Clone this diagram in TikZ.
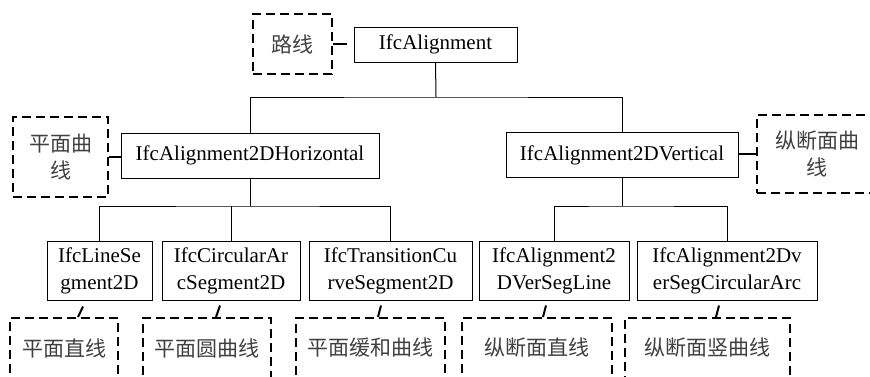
\documentclass[tikz,border=0pt]{standalone}
\usepackage{fontspec}
\setmainfont{Liberation Serif}
\newfontfamily\cjk{Noto Sans CJK SC}
\usepackage{tikz}
\usetikzlibrary{positioning}
\tikzset{>=stealth}

\begin{document}
\begin{tikzpicture}[x=0.5pt, y=-0.5pt,
    every node/.style={font=\fontsize{10.5pt}{13.5pt}\selectfont, inner sep=0pt, align=center},
    cls/.style={draw, line width=0.5pt},
    note/.style={draw, line width=1pt, dash pattern=on 4.5pt off 2.5pt, text=black!75, font=\cjk\fontsize{10.5pt}{13.5pt}\selectfont},
    link/.style={line width=0.5pt},
    callout/.style={line width=1pt}]

    \useasboundingbox (0,0) rectangle (870,376);

    % classes
    \node[cls, minimum width=81.5pt, minimum height=17.5pt]	(root)	at	(435.5,44.5)	{IfcAlignment};
    \node[cls, minimum width=129pt, minimum height=22.5pt]	(hor)	at	(250,155.5)	{IfcAlignment2DHorizontal};
    \node[cls, minimum width=116pt, minimum height=22.5pt]	(ver)	at	(622,155)	{IfcAlignment2DVertical};
    \node[cls, minimum width=52.5pt, minimum height=29.5pt]	(ls)	at	(99.5,270.5)	{IfcLineSe\\gment2D};
    \node[cls, minimum width=69pt, minimum height=29.5pt]	(ca)	at	(231,270.5)	{IfcCircularAr\\cSegment2D};
    \node[cls, minimum width=81.5pt, minimum height=29.5pt]	(tr)	at	(390.5,270.5)	{IfcTransitionCu\\rveSegment2D};
    \node[cls, minimum width=75pt, minimum height=29.5pt]	(vl)	at	(554,270.5)	{IfcAlignment2\\DVerSegLine};
    \node[cls, minimum width=90pt, minimum height=29.5pt]	(va)	at	(727,270.5)	{IfcAlignment2Dv\\erSegCircularArc};

    % notes
    \node[note, minimum width=39.5pt, minimum height=30pt]	(rnote)	at	(292.5,44)	{路线};
    \node[note, minimum width=47.5pt, minimum height=40pt]	(hnote)	at	(60.5,157)	{平面曲\\线};
    \node[note, minimum width=60pt, minimum height=39pt]	(vnote)	at	(817,154)	{纵断面曲\\线};
    \node[note, minimum width=54pt, minimum height=30pt]	(lsn)	at	(64,348)	{平面直线};
    \node[note, minimum width=64pt, minimum height=30pt]	(can)	at	(207,348)	{平面圆曲线};
    \node[note, minimum width=74.5pt, minimum height=30pt]	(trn)	at	(370.5,348)	{平面缓和曲线};
    \node[note, minimum width=75pt, minimum height=30pt]	(vln)	at	(537,348)	{纵断面直线};
    \node[note, minimum width=82.5pt, minimum height=30pt]	(van)	at	(707.5,348)	{纵断面竖曲线};

    % tree
    \coordinate (b0) at (436,97);
    \coordinate (b1) at (250,206);
    \coordinate (b2) at (622,206);
    \draw[link] (root.south) -- (b0);
    \draw[link] (hor.north) |- (b0) -| (ver.north);
    \draw[link] (hor.south) -- (b1);
    \draw[link] (ls.north) |- (b1) -| (tr.north);
    \draw[link] (ca.north) -- (ca.north |- b1);
    \draw[link] (ver.south) -- (b2);
    \draw[link] (vl.north) |- (b2) -| (va.north);

    % callouts
    \draw[callout, shorten >=3.5pt] (rnote.east) -- (rnote.east -| root.west);
    \draw[callout] (hnote.east) -- (hnote.east -| hor.west);
    \draw[callout] (vnote.west) -- (vnote.west -| ver.east);
    \draw[callout] ([xshift=7pt]lsn.north) -- ([xshift=-8.25pt,yshift=-3pt]ls.south);
    \draw[callout] ([xshift=4.5pt]can.north) -- ([xshift=-5.5pt,yshift=-2.5pt]ca.south);
    \draw[callout] ([xshift=3.75pt]trn.north) -- ([xshift=-4.75pt,yshift=-2.5pt]tr.south);
    \draw[callout] ([xshift=3pt]vln.north) -- ([xshift=-4pt,yshift=-2.5pt]vl.south);
    \draw[callout] ([xshift=4.25pt]van.north) -- ([xshift=-4pt,yshift=-2.5pt]va.south);
\end{tikzpicture}
\end{document}
